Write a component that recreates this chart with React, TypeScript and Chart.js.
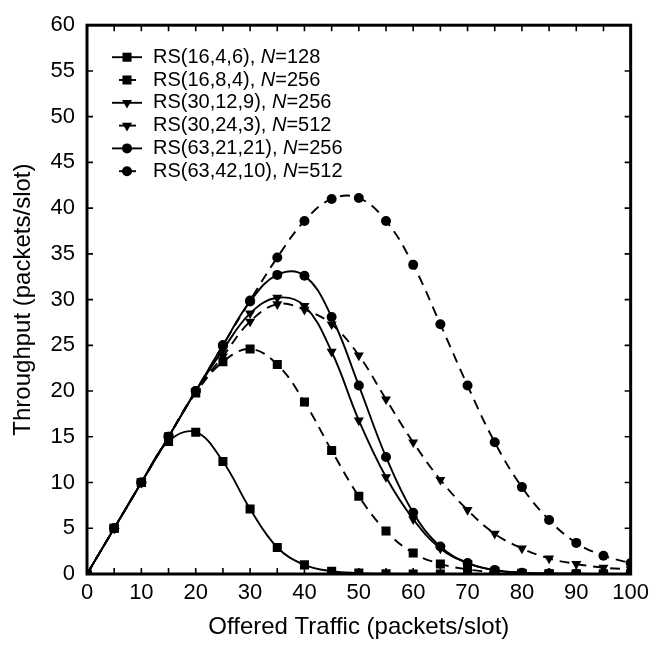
import React, { useEffect, useRef } from "react";
import { Chart, registerables } from "chart.js";

Chart.register(...registerables);

// Offered traffic (packets/slot)
const offeredTraffic = [0, 5, 10, 15, 20, 25, 30, 35, 40, 45, 50, 55, 60, 65, 70, 75, 80, 85, 90, 95, 100];

// Throughput (packets/slot) per code
const rs16_4_6 = [0, 5, 10, 14.5, 15.5, 12.3, 7.1, 2.9, 1.0, 0.3, 0.1, 0.03, 0.01, 0, 0, 0, 0, 0, 0, 0, 0];
const rs16_8_4 = [0, 5, 10, 15, 19.8, 23.2, 24.6, 22.9, 18.8, 13.5, 8.5, 4.7, 2.3, 1.1, 0.5, 0.2, 0.08, 0.03, 0.01, 0, 0];
const rs30_12_9 = [0, 5, 10, 15, 20, 24.5, 28.5, 30.2, 29.3, 24.3, 16.8, 10.6, 6.0, 2.8, 1.2, 0.4, 0.15, 0.05, 0.02, 0, 0];
const rs30_24_3 = [0, 5, 10, 15, 20, 23.8, 27.6, 29.5, 28.9, 27.3, 23.9, 19.1, 14.4, 10.3, 7.0, 4.4, 2.8, 1.7, 1.1, 0.7, 0.5];
const rs63_21_21 = [0, 5, 10, 15, 20, 25, 29.8, 32.7, 32.6, 28.1, 20.6, 12.8, 6.7, 3.0, 1.2, 0.45, 0.15, 0.05, 0.02, 0, 0];
const rs63_42_10 = [0, 5, 10, 15, 20, 25, 29.9, 34.6, 38.6, 41.0, 41.1, 38.6, 33.8, 27.3, 20.6, 14.4, 9.5, 5.9, 3.4, 2.0, 1.2];

const seriesCodes = ["RS(16,4,6)", "RS(16,8,4)", "RS(30,12,9)", "RS(30,24,3)", "RS(63,21,21)", "RS(63,42,10)"];
const seriesN = ["128", "256", "256", "512", "256", "512"];
const seriesValues = [rs16_4_6, rs16_8_4, rs30_12_9, rs30_24_3, rs63_21_21, rs63_42_10];
const seriesDashed = [false, true, false, true, false, true];
const seriesMarker = ["rect", "rect", "triangle", "triangle", "circle", "circle"];

const xTitle = "Offered Traffic (packets/slot)";
const yTitle = "Throughput (packets/slot)";

const FONT = "'Liberation Sans', Arial, Helvetica, sans-serif";

function markerRadius(m: string) {
  if (m === "rect") return 6.4;
  if (m === "triangle") return 5.8;
  return 5;
}

const framePlugin = {
  id: "frameTicksLegend",
  afterDraw(chart: any) {
    const { ctx, chartArea } = chart;
    const { left, right, top, bottom } = chartArea;
    const xs = chart.scales.x;
    const ys = chart.scales.y;
    ctx.save();
    ctx.strokeStyle = "#000";
    ctx.lineWidth = 1.6;
    ctx.beginPath();
    for (let v = 0; v <= 100; v += 5) {
      const px = xs.getPixelForValue(v);
      ctx.moveTo(px, bottom);
      ctx.lineTo(px, bottom - 6);
      ctx.moveTo(px, top);
      ctx.lineTo(px, top + 6);
    }
    for (let v = 0; v <= 60; v += 5) {
      const py = ys.getPixelForValue(v);
      ctx.moveTo(left, py);
      ctx.lineTo(left + 6, py);
      ctx.moveTo(right, py);
      ctx.lineTo(right - 6, py);
    }
    ctx.stroke();
    ctx.lineWidth = 3;
    ctx.strokeRect(left, top, right - left, bottom - top);

    // legend
    const x0 = left + 25;
    const rowTop = top + 32;
    const rowH = 22.8;
    ctx.fillStyle = "#000";
    ctx.textBaseline = "middle";
    seriesCodes.forEach((code, i) => {
      const y = rowTop + i * rowH;
      ctx.lineWidth = 1.9;
      ctx.setLineDash([]);
      ctx.beginPath();
      if (seriesDashed[i]) {
        ctx.moveTo(x0 + 7, y);
        ctx.lineTo(x0 + 24, y);
      } else {
        ctx.moveTo(x0, y);
        ctx.lineTo(x0 + 30, y);
      }
      ctx.stroke();
      const m = seriesMarker[i];
      const r = markerRadius(m);
      const cx = x0 + 15;
      ctx.beginPath();
      if (m === "rect") {
        const s = r * Math.SQRT1_2;
        ctx.rect(cx - s, y - s, 2 * s, 2 * s);
      } else if (m === "triangle") {
        ctx.moveTo(cx - r * 0.866, y - r * 0.5);
        ctx.lineTo(cx + r * 0.866, y - r * 0.5);
        ctx.lineTo(cx, y + r);
        ctx.closePath();
      } else {
        ctx.arc(cx, y, r, 0, Math.PI * 2);
      }
      ctx.fill();
      let tx = x0 + 41;
      ctx.font = `20px ${FONT}`;
      const p1 = `${code}, `;
      ctx.fillText(p1, tx, y);
      tx += ctx.measureText(p1).width;
      ctx.font = `italic 20px ${FONT}`;
      ctx.fillText("N", tx, y);
      tx += ctx.measureText("N").width;
      ctx.font = `20px ${FONT}`;
      ctx.fillText(`=${seriesN[i]}`, tx, y);
    });
    ctx.restore();
  },
};

export default function App() {
  const ref = useRef<HTMLCanvasElement | null>(null);
  useEffect(() => {
    document.body.style.margin = "0";
    const canvas = ref.current;
    if (!canvas) return;
    const datasets = seriesValues.map((vals, i) => ({
      label: `${seriesCodes[i]}, N=${seriesN[i]}`,
      data: offeredTraffic.map((x, j) => ({ x, y: vals[j] })),
      borderColor: "#000",
      backgroundColor: "#000",
      borderWidth: 1.9,
      borderDash: seriesDashed[i] ? [10, 7] : [],
      pointStyle: seriesMarker[i] as any,
      pointRadius: markerRadius(seriesMarker[i]),
      pointRotation: seriesMarker[i] === "triangle" ? 180 : 0,
      pointBorderWidth: 0,
      tension: 0.4,
      fill: false,
    }));
    const chart = new Chart(canvas, {
      type: "line",
      data: { datasets },
      options: {
        animation: false,
        responsive: false,
        layout: { padding: { top: 16, right: 23, left: 0, bottom: 0 } },
        plugins: { legend: { display: false }, tooltip: { enabled: false } },
        scales: {
          x: {
            type: "linear",
            min: 0,
            max: 100,
            grid: { display: false, drawTicks: false },
            border: { display: false },
            ticks: { stepSize: 10, color: "#000", font: { family: FONT, size: 22 }, padding: 6, maxRotation: 0 },
            title: { display: true, text: xTitle, color: "#000", font: { family: FONT, size: 24 }, padding: { top: 0, bottom: 4 } },
            afterFit: (s: any) => { s.height = 72; },
          },
          y: {
            type: "linear",
            min: 0,
            max: 60,
            grid: { display: false, drawTicks: false },
            border: { display: false },
            ticks: { stepSize: 5, color: "#000", font: { family: FONT, size: 22 }, padding: 12 },
            title: { display: true, text: yTitle, color: "#000", font: { family: FONT, size: 24 }, padding: { top: 9, bottom: 0 } },
            afterFit: (s: any) => { s.width = 87; },
          },
        },
      },
      plugins: [framePlugin],
    });
    return () => chart.destroy();
  }, []);
  return <canvas ref={ref} width={655} height={646} style={{ display: "block" }} />;
}
